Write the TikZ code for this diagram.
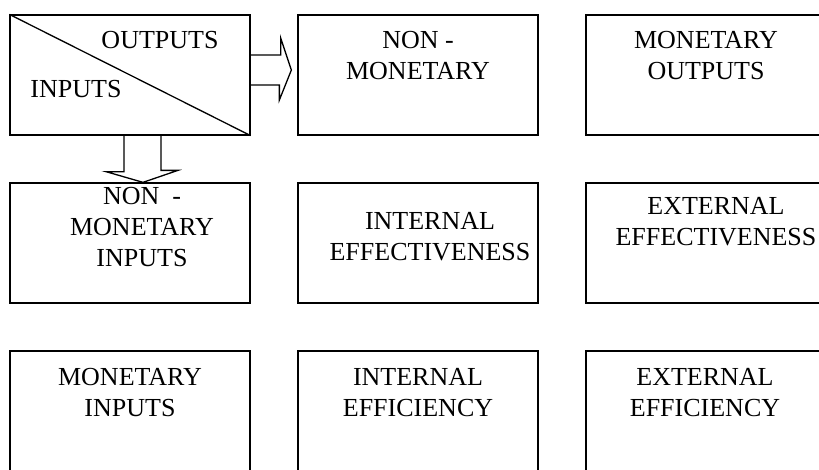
\documentclass[tikz,border=0pt]{standalone}
\usepackage{fontspec}
\setmainfont{Liberation Serif}
\usepackage{tikz}

\begin{document}
\begin{tikzpicture}[x=1pt,y=-1pt,node distance=288pt,line width=1.3pt]
        \tikzstyle{cell}=[draw=black,rectangle,minimum width=240pt,minimum height=120pt,inner sep=0pt]
        \tikzstyle{lbl}=[align=center,inner sep=0pt,anchor=north,font=\fontsize{26}{31}\selectfont]
        \tikzstyle{fat}=[line join=miter]
        \useasboundingbox (0,0) rectangle (819,469);

        \node[cell]  (io) at (130,75)  {};
        \node[cell]  (nm)  [right of=io]  {};
        \node[cell]  (mo)  [right of=nm]  {};

        \node[cell] (nmi) [below of=io,node distance=168pt] {};
        \node[cell] (ie)  [right of=nmi] {};
        \node[cell] (ee)  [right of=ie] {};

        \node[cell] (mi)  [below of=nmi,node distance=168pt] {};
        \node[cell] (ief) [right of=mi] {};
        \node[cell] (eef) [right of=ief] {};

        \draw (io.north west) -- (io.south east);
        \node[lbl] (tout) at ([xshift=30pt,yshift=-16.5pt]io.north) {OUTPUTS};
        \node[lbl] (tin)  at ([xshift=-54pt,yshift=-65.5pt]io.north) {INPUTS};
        \node[lbl] (tnm)  at ([yshift=-16.5pt]nm.north) {NON -\\MONETARY};
        \node[lbl] (tmo)  at ([yshift=-16.5pt]mo.north) {MONETARY\\OUTPUTS};
        \node[lbl] (tnmi) at ([xshift=12pt,yshift=-4.5pt]nmi.north) {NON~ -\\MONETARY\\INPUTS};
        \node[lbl] (tie)  at ([xshift=12pt,yshift=-29.5pt]ie.north) {INTERNAL\\EFFECTIVENESS};
        \node[lbl] (tee)  at ([xshift=10pt,yshift=-14.5pt]ee.north) {EXTERNAL\\EFFECTIVENESS};
        \node[lbl] (tmi)  at ([yshift=-17.5pt]mi.north) {MONETARY\\INPUTS};
        \node[lbl] (tief) at ([yshift=-17.5pt]ief.north) {INTERNAL\\EFFICIENCY};
        \node[lbl] (teef) at ([xshift=-1pt,yshift=-17.5pt]eef.north) {EXTERNAL\\EFFICIENCY};

        % block arrows
        \draw[fat] ([yshift=20pt]io.east) -- ++(30,0) -- ++(0,-17)
            -- ([xshift=-6pt,yshift=5pt]nm.west) -- ++(-12,30) -- ++(0,-15)
            -- ([yshift=-10pt]io.east);
        \draw[fat] ([xshift=-6pt]io.south) -- ++(0,36) -- ++(-18,0)
            -- ([xshift=13pt]nmi.north) -- ++(35,-12) -- ++(-17,0)
            -- ([xshift=31pt]io.south);
    \end{tikzpicture}
\end{document}
